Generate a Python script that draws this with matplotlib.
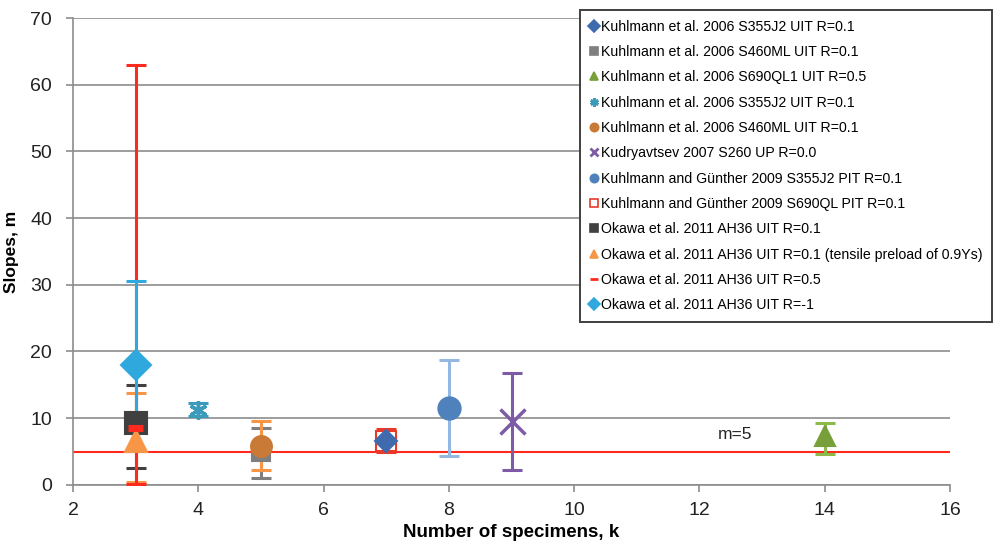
import matplotlib
matplotlib.use("Agg")
import matplotlib.pyplot as plt
from matplotlib.lines import Line2D

plt.rcParams["font.family"] = ["Liberation Sans", "DejaVu Sans"]

# series, listed in legend order
labels = [
    "Kuhlmann et al. 2006 S355J2 UIT R=0.1",
    "Kuhlmann et al. 2006 S460ML UIT R=0.1",
    "Kuhlmann et al. 2006 S690QL1 UIT R=0.5",
    "Kuhlmann et al. 2006 S355J2 UIT R=0.1",
    "Kuhlmann et al. 2006 S460ML UIT R=0.1",
    "Kudryavtsev 2007 S260 UP R=0.0",
    "Kuhlmann and Günther 2009 S355J2 PIT R=0.1",
    "Kuhlmann and Günther 2009 S690QL PIT R=0.1",
    "Okawa et al. 2011 AH36 UIT R=0.1",
    "Okawa et al. 2011 AH36 UIT R=0.1 (tensile preload of 0.9Ys)",
    "Okawa et al. 2011 AH36 UIT R=0.5",
    "Okawa et al. 2011 AH36 UIT R=-1",
]
k_vals = [7, 5, 14, 4, 5, 9, 8, 7, 3, 3, 3, 3]
m_vals = [6.6, 5.0, 7.3, 11.2, 5.8, 9.6, 11.5, 6.5, 9.2, 6.5, 8.5, 18.0]
m_low = [6.6, 1.0, 4.7, 10.3, 2.3, 2.3, 4.3, 5.0, 2.5, 0.5, 0.2, 9.5]
m_high = [6.6, 8.5, 9.2, 12.2, 9.5, 16.8, 18.7, 8.3, 15.0, 13.8, 63.0, 30.5]

colors = ["#3F6BAE", "#7F7F7F", "#77A03A", "#3C9BBB", "#C87A36", "#7D5BA6",
          "#4F81BD", "#E8392A", "#404040", "#F79646", "#FF2A1E", "#2FA8DE"]
err_colors = ["#3F6BAE", "#7F7F7F", "#8DB84A", "#3C9BBB", "#F79646", "#7D5BA6",
              "#95B8E3", "#E8392A", "#404040", "#F79646", "#FF2A1E", "#2FA8DE"]
markers = ["D", "s", "^", (6, 2, 0), "o", "x", "o", "s", "s", "^", "_", "D"]
sizes = [11, 13, 14, 13, 15, 18, 16, 14, 16, 16, 14, 15]
filled = [True, True, True, True, True, True, True, False, True, True, True, True]

M_REF = 5.0
LINE_MARKS = ("x", (6, 2, 0), "_")

fig = plt.figure(figsize=(10.01, 5.46), dpi=100)
ax = fig.add_axes([0.073, 0.112, 0.876, 0.855])

ax.axhline(M_REF, color="#FF2A1E", lw=1.5, zorder=2)

# error bars first so every marker sits on top
order = [8, 9, 10, 11, 1, 4, 3, 7, 0, 6, 5, 2]
for i in order:
    ax.errorbar(k_vals[i], m_vals[i],
                yerr=[[m_vals[i] - m_low[i]], [m_high[i] - m_vals[i]]],
                fmt="none", ecolor=err_colors[i], elinewidth=2.2,
                capsize=7, capthick=2.2, zorder=3)

for i in order:
    mk = markers[i]
    if mk == "_":
        # thick red bar inside the Okawa square
        ax.hlines(m_vals[i], k_vals[i] - 0.12, k_vals[i] + 0.12,
                  color=colors[i], lw=5, zorder=6)
        continue
    face = colors[i] if filled[i] else "white"
    ax.plot(k_vals[i], m_vals[i], marker=mk, ms=sizes[i], color=colors[i],
            mfc=face, mec=colors[i], mew=2.5 if mk in LINE_MARKS else 1.5,
            ls="none", zorder=5)

ax.text(12.3, 7.6, "m=5", fontsize=12.5, color="#222222", ha="left",
        va="center")

ax.set_xlim(2, 16)
ax.set_ylim(0, 70)
ax.set_xticks(range(2, 17, 2))
ax.set_yticks(range(0, 71, 10))
ax.yaxis.grid(True, color="#8C8C8C", lw=1.2)
ax.set_axisbelow(True)
for s in ["top", "right"]:
    ax.spines[s].set_visible(False)
for s in ["left", "bottom"]:
    ax.spines[s].set_color("#8C8C8C")
    ax.spines[s].set_linewidth(1.2)
ax.tick_params(axis="x", direction="out", length=5, width=1.2,
               color="#8C8C8C", labelsize=14, pad=7, labelcolor="#222222")
ax.tick_params(axis="y", direction="out", length=5, width=1.2,
               color="#8C8C8C", labelsize=14, pad=10, labelcolor="#222222")
ax.set_xlabel("Number of specimens, k", fontsize=13.5, fontweight="bold",
              labelpad=4)
ax.set_ylabel("Slopes, m", fontsize=12.5, fontweight="bold", labelpad=8)

# legend with small markers
handles = []
for i in range(len(labels)):
    mk = markers[i]
    face = colors[i] if filled[i] else "white"
    handles.append(Line2D([], [], marker=mk, ls="none", color=colors[i],
                          mfc=face, mec=colors[i], ms=6,
                          mew=2 if mk in LINE_MARKS else 1.2))
leg = fig.legend(handles, labels, loc="upper left",
                 bbox_to_anchor=(0.579, 0.982), fontsize=10.2, frameon=True,
                 fancybox=False, edgecolor="#404040", framealpha=1,
                 handlelength=0.6, handletextpad=0.2, borderpad=0.7,
                 labelspacing=0.8, borderaxespad=0)
leg.get_frame().set_linewidth(1.4)

fig.savefig("out.png", dpi=100)
